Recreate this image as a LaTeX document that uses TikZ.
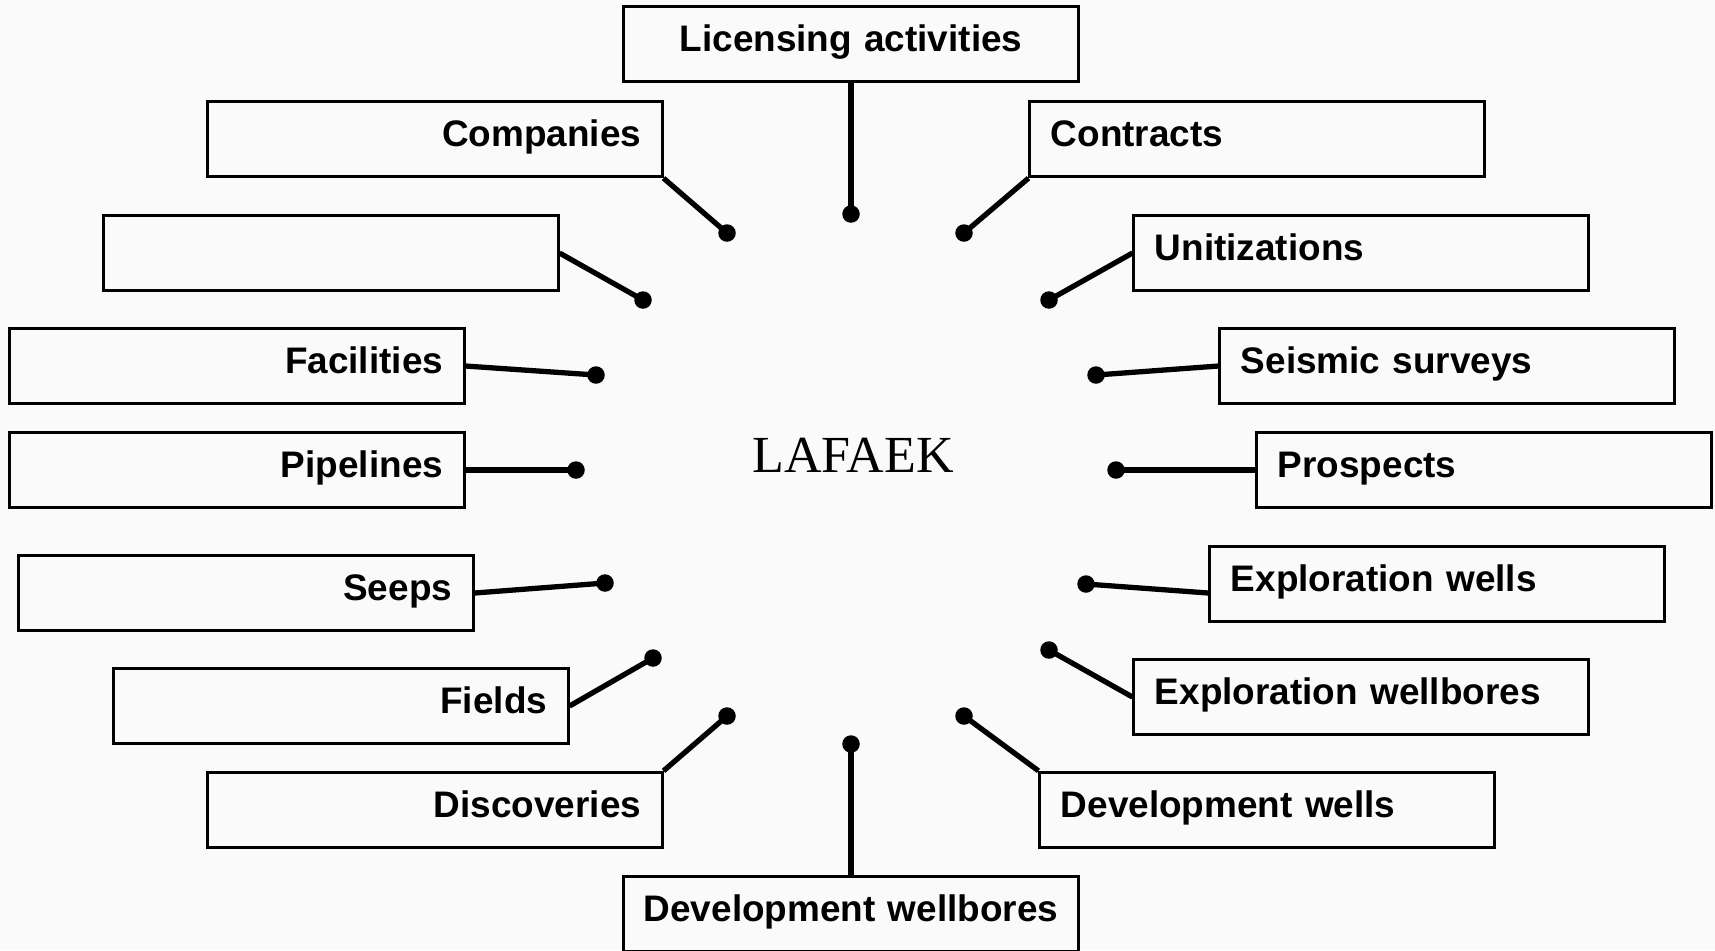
\documentclass[tikz,border=0pt]{standalone}
\usepackage{fontspec}
\setmainfont{Liberation Sans}
\newfontfamily\lafaekfont{Liberation Serif}
\tikzset{
    entity/.style = {draw, line width=.8pt, text width=41.2mm,
        inner xsep=2.1mm, inner ysep=0pt, minimum height=7.55mm,
        text height=2.65mm, text depth=1.11mm,
        font=\bfseries\fontsize{10.5pt}{12pt}\selectfont},
    leftbox/.style = {entity, align=right},
    rightbox/.style = {entity, align=left},
    midbox/.style = {entity, align=center, text width=45mm, inner xsep=.2mm},
    dot/.style = {circle, fill, inner sep=0pt, minimum size=1.75mm},
    link/.style = {line width=1.5pt}
}

\begin{document}
\begin{tikzpicture}[x=0.01cm, y=-0.01cm]
    \fill[black!2] (0,0) rectangle (1715,950);
    \useasboundingbox (0,0) rectangle (1715,950);

    \node[anchor=base, font=\lafaekfont\fontsize{14.8pt}{16pt}\selectfont]
        (lafaek) at (853,472) {LAFAEK};

    % left side
    \node[midbox]   (lic)   at (851,44)  {Licensing activities};
    \node[leftbox]  (comp)  at (435,139) {Companies};
    \node[leftbox]  (blank) at (331,253) {};
    \node[leftbox]  (fac)   at (237,366) {Facilities};
    \node[leftbox]  (pipe)  at (237,470) {Pipelines};
    \node[leftbox]  (seep)  at (246,593) {Seeps};
    \node[leftbox]  (field) at (341,706) {Fields};
    \node[leftbox]  (disc)  at (435,810) {Discoveries};
    \node[midbox]   (devwb) at (851,914) {Development wellbores};
    % right side
    \node[rightbox] (devw)   at (1267,810) {Development wells};
    \node[rightbox] (explwb) at (1361,697) {Exploration wellbores};
    \node[rightbox] (explw)  at (1437,584) {Exploration wells};
    \node[rightbox] (prosp)  at (1484,470) {Prospects};
    \node[rightbox] (seis)   at (1447,366) {Seismic surveys};
    \node[rightbox] (unit)   at (1361,253) {Unitizations};
    \node[rightbox] (contr)  at (1257,139) {Contracts};

    \foreach \Name/\X/\Y in {%
        lic/851/214,
        comp/727/233,
        blank/643/300,
        fac/596/375,
        pipe/576/470,
        seep/605/583,
        field/653/658,
        disc/727/716,
        devwb/851/744,
        devw/964/716,
        explwb/1049/650,
        explw/1086/584,
        prosp/1116/470,
        seis/1096/375,
        unit/1049/300,
        contr/964/233}
            \node[dot] (dot-\Name) at (\X,\Y) {};

    \foreach \Name/\Side/\Shift in {%
        lic/south/0,
        comp/south east/0,
        blank/east/0,
        fac/east/0,
        pipe/east/0,
        seep/east/0,
        field/east/0,
        disc/north east/0,
        devwb/north/0,
        devw/north west/0,
        explwb/west/0,
        explw/west/-.9,
        prosp/west/0,
        seis/west/0,
        unit/west/0,
        contr/south west/0}
            \draw[link] ([yshift=\Shift mm]\Name.\Side) -- (dot-\Name.center);
\end{tikzpicture}
\end{document}
